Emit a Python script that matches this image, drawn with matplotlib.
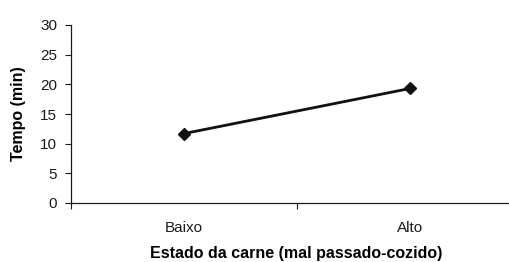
import numpy as np
import matplotlib.pyplot as plt

categorias = ['Baixo', 'Alto']
tempo = [11.7, 19.3]
yticks = [0, 5, 10, 15, 20, 25, 30]

plt.rcParams['font.family'] = ['Liberation Sans', 'DejaVu Sans']

fig = plt.figure(figsize=(5.10, 2.62), dpi=100)
ax = fig.add_axes([71/510, 1 - 203/262, 452/510, 178/262])

x = np.arange(len(categorias))
ax.plot(x, tempo, color='#111111', lw=2, marker='D', ms=6.5, clip_on=False)

ax.set_xlim(-0.5, len(categorias) - 0.5)
ax.set_ylim(0, 30)
ax.set_yticks(yticks)
ax.tick_params(axis='y', length=4, width=0.8, pad=6, labelsize=11, colors='#1a1a1a')

ax.set_xticks(x)
ax.set_xticklabels(categorias)
ax.set_xticks(np.arange(len(categorias) + 1) - 0.5, minor=True)
ax.tick_params(axis='x', which='major', length=0, pad=13, labelsize=11, colors='#1a1a1a')
ax.tick_params(axis='x', which='minor', length=4, width=0.8, color='#1a1a1a')

for s in ['top', 'right']:
    ax.spines[s].set_visible(False)
for s in ['left', 'bottom']:
    ax.spines[s].set_color('#1a1a1a')
    ax.spines[s].set_linewidth(0.9)

ax.set_ylabel('Tempo (min)', fontsize=11.5, fontweight='bold')
ax.set_xlabel('Estado da carne (mal passado-cozido)', fontsize=11.5, fontweight='bold')
ax.yaxis.set_label_coords(-0.1, 0.5)
ax.xaxis.set_label_coords((296 - 71) / 452, -0.24)

fig.savefig('out.png', dpi=100)
